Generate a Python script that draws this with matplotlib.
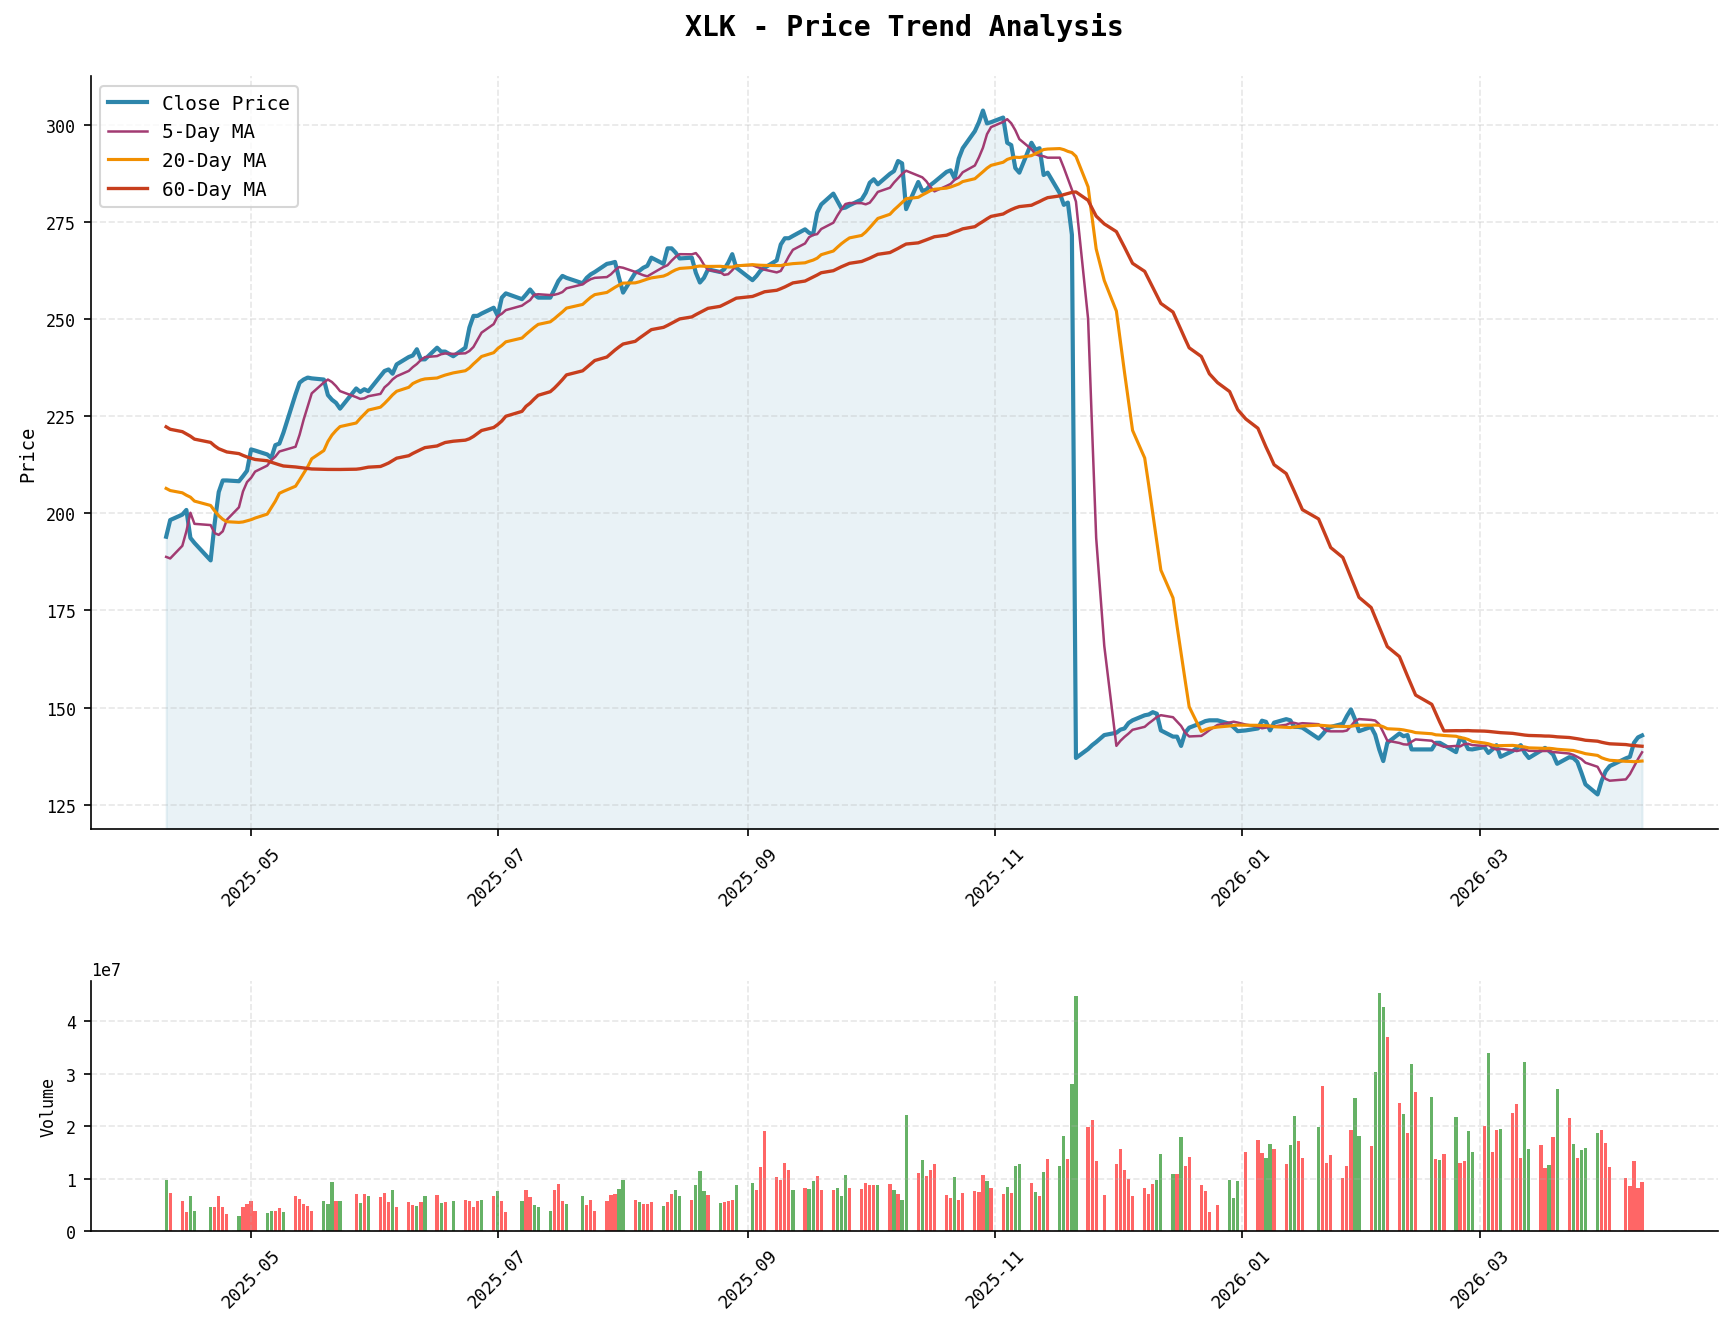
import numpy as np
import pandas as pd
import matplotlib
matplotlib.use('Agg')
import matplotlib.pyplot as plt
import matplotlib.dates as mdates

plt.rcParams['font.family'] = ['DejaVu Sans Mono']

ticker = 'XLK'
start, end = '2025-04-10', '2026-04-10'
# market holidays plus one day with no data (2025-07-21)
closed_days = ['2025-04-18', '2025-05-26', '2025-06-19', '2025-07-04', '2025-07-21',
               '2025-09-01', '2025-11-27', '2025-12-25', '2026-01-01', '2026-01-19',
               '2026-02-16', '2026-04-03']

# 60 closes before the window (2025-01-14 .. 2025-04-09), only used to seed the moving averages
close_before = [232, 235, 234, 237, 239, 243, 242, 241, 230, 234, 234, 236, 234, 231, 235, 236,
                238, 235, 237, 236, 236, 238,
                242, 242, 243, 241, 235, 231, 229, 229, 223, 225, 220, 219, 221,
                210, 209, 200, 198, 200,
                205, 210, 212, 211, 214, 215, 216, 222, 224, 221,
                212, 206, 204, 205, 208,
                196, 182, 181, 177, 208]

close = [
    # 2025-04
    194.0, 198.3, 199.7, 200.9, 193.7, 192.4, 187.9, 197.5, 205.5, 208.5, 208.5, 208.3, 209.6, 211.0,
    # 2025-05
    216.5, 216.2, 215.2, 214.3, 217.6, 218.0, 220.8, 230.7, 233.7, 234.5, 235.0, 234.8, 234.5, 230.5,
    229.3, 228.5, 227.0, 232.2, 231.3, 232.0, 231.5,
    # 2025-06
    235.4, 236.7, 237.1, 236.0, 238.4, 240.3, 240.7, 242.3, 239.7, 239.7, 242.7, 241.7, 241.7, 240.5,
    242.7, 247.9, 250.9, 250.9, 251.5, 253.0,
    # 2025-07
    250.9, 255.6, 256.7, 255.2, 256.4, 257.7, 256.4, 255.6, 255.6, 257.7, 259.9, 261.2, 260.7, 259.3,
    260.7, 261.6, 262.2, 264.3, 264.5, 264.8, 260.7,
    # 2025-08
    256.9, 262.0, 262.5, 263.3, 263.8, 265.9, 264.3, 268.3, 268.3, 267.2, 265.7, 265.9, 262.0, 259.5,
    260.7, 262.9, 262.2, 262.9, 264.6, 266.8, 263.3,
    # 2025-09
    260.1, 261.2, 262.6, 263.3, 265.2, 269.3, 270.9, 270.9, 271.5, 273.2, 272.3, 271.9, 277.5, 279.6,
    282.4, 280.5, 278.6, 278.8, 279.4, 280.9, 282.6,
    # 2025-10
    285.2, 286.1, 284.8, 287.5, 288.2, 290.8, 290.2, 278.4, 285.4, 283.1, 283.4, 284.6, 285.4, 288.0,
    288.4, 286.3, 291.4, 294.1, 298.5, 300.8, 303.8, 300.5, 300.8,
    # 2025-11
    302.0, 295.5, 294.9, 289.0, 287.8, 295.5, 293.7, 294.1, 287.2, 287.8, 282.5, 279.5, 280.1, 271.8,
    137.0, 139.3, 140.3, 141.1, 142.9,
    # 2025-12
    143.5, 144.3, 144.6, 146.0, 146.7, 148.0, 148.2, 148.8, 148.4, 144.1, 142.5, 142.5, 140.1, 143.5,
    144.8, 146.0, 146.5, 146.7, 146.7, 145.8, 144.9, 143.9,
    # 2026-01
    144.1, 144.6, 146.6, 146.3, 144.1, 146.1, 147.0, 146.7, 145.0, 145.0, 144.8, 142.0, 143.1, 144.4,
    145.0, 145.8, 147.8, 149.5, 147.0, 143.9,
    # 2026-02
    145.0, 143.0, 139.2, 136.2, 140.9, 143.3, 142.6, 142.9, 139.2, 139.2, 139.2, 140.9, 140.9, 140.3,
    138.5, 142.2, 141.3, 139.3, 139.2,
    # 2026-03
    139.8, 138.3, 139.2, 140.3, 137.3, 138.8, 139.5, 140.3, 138.3, 137.0, 138.9, 139.6, 138.8, 137.9,
    135.5, 137.2, 137.0, 136.0, 133.2, 130.2, 127.6, 131.1,
    # 2026-04
    133.6, 134.9, 136.9, 137.3, 140.9, 142.3, 142.8,
]

# volume in units of 1e7 shares
volume_1e7 = [
    0.98, 0.72, 0.58, 0.36, 0.66, 0.38, 0.45, 0.45, 0.66, 0.45, 0.32, 0.28, 0.45, 0.51,
    0.565, 0.39, 0.34, 0.39, 0.39, 0.43, 0.36, 0.66, 0.62, 0.51, 0.47, 0.39, 0.58, 0.51,
    0.93, 0.565, 0.58, 0.70, 0.53, 0.70, 0.66,
    0.64, 0.72, 0.55, 0.79, 0.45, 0.55, 0.49, 0.47, 0.55, 0.66, 0.68, 0.53, 0.55, 0.565,
    0.60, 0.565, 0.45, 0.565, 0.60, 0.66,
    0.76, 0.58, 0.36, 0.565, 0.775, 0.64, 0.49, 0.45, 0.39, 0.775, 0.89, 0.58, 0.51, 0.66,
    0.49, 0.60, 0.39, 0.565, 0.68, 0.70, 0.81,
    0.965, 0.60, 0.546, 0.51, 0.51, 0.546, 0.47, 0.546, 0.70, 0.775, 0.66, 0.60, 0.87, 1.137,
    0.756, 0.68, 0.527, 0.546, 0.565, 0.60, 0.87,
    0.908, 0.775, 1.213, 1.917, 1.022, 0.965, 1.289, 1.156, 0.775, 0.813, 0.794, 0.946, 1.041, 0.775,
    0.775, 0.813, 0.66, 1.06, 0.813, 0.794, 0.908,
    0.87, 0.87, 0.87, 0.889, 0.775, 0.70, 0.584, 2.222, 1.098, 1.346, 1.041, 1.156, 1.27, 0.68,
    0.622, 1.022, 0.584, 0.717, 0.756, 0.737, 1.06, 0.946, 0.813,
    0.70, 0.832, 0.717, 1.232, 1.27, 0.908, 0.737, 0.66, 1.117, 1.365, 1.232, 1.822, 1.365, 2.813,
    4.489, 1.994, 2.127, 1.327, 0.68,
    1.27, 1.556, 1.156, 0.984, 0.66, 0.813, 0.70, 0.889, 0.965, 1.479, 1.079, 1.079, 1.803, 1.232,
    1.422, 0.87, 0.756, 0.356, 0.49, 0.965, 0.622, 0.946,
    1.517, 1.746, 1.498, 1.384, 1.67, 1.556, 1.27, 1.651, 2.203, 1.727, 1.403, 1.994, 2.775, 1.289,
    1.46, 1.003, 1.232, 1.937, 2.546, 1.822,
    1.632, 3.04, 4.546, 4.279, 3.708, 2.451, 2.241, 1.879, 3.194, 2.66, 2.565, 1.365, 1.346, 1.479,
    2.184, 1.289, 1.327, 1.917, 1.517,
    2.013, 3.403, 1.517, 1.937, 1.956, 2.26, 2.432, 1.384, 3.232, 1.556, 1.651, 1.194, 1.251, 1.803,
    2.717, 2.165, 1.67, 1.384, 1.537, 1.575, 1.879, 1.937,
    1.689, 1.213, 1.003, 0.851, 1.327, 0.813, 0.927,
]

# U = up day, D = down day (one letter per session, month by month)
direction = ('DUUUDDDUUUUDUU' 'UUDDUUDUUUUUDDDUDUDUD' 'UUUDUUUDUDUDUDUUUUDU'
             'DUUDUUDDDUUUDDUUUUUUD' 'DUDUUUDUUDDUDDDUDUUUD' 'DUUUUUUUDUDDUUUDDDUUU'
             'UUDUDUDDUDUUUUUDUUUUUDU' 'UDUDDUDUDUDDUDDUUUU' 'UUUUUUUUDDDUDUUUUUUDDD'
             'UUUDDUUDDUUDUUUUUUDD' 'UDDDUUDUDUDUDUDUUDD' 'UDUUDUUUDDUUDUDUDUDDDU'
             'UUUUUUU')

dates = pd.bdate_range(start, end).drop(pd.to_datetime(closed_days))

series = pd.Series(close_before + close)
n0 = len(close_before)
ma5 = series.rolling(5).mean().shift(1).iloc[n0:].values
ma20 = series.rolling(20).mean().shift(1).iloc[n0:].values
ma60 = series.rolling(60).mean().shift(1).iloc[n0:].values

volume = np.array(volume_1e7) * 1e7
bar_colors = ['red' if d == 'U' else 'green' for d in direction]

fig = plt.figure(figsize=(1732 / 150, 1327 / 150), dpi=150)
ax1 = fig.add_axes([0.0523, 0.3748, 0.9394, 0.5669])
ax2 = fig.add_axes([0.0523, 0.0716, 0.9394, 0.1884], sharex=ax1)

ax1.plot(dates, close, color='#2E86AB', linewidth=2, label='Close Price')
ax1.plot(dates, ma5, color='#A23B72', linewidth=1.2, label='5-Day MA')
ax1.plot(dates, ma20, color='#F18F01', linewidth=1.5, label='20-Day MA')
ax1.plot(dates, ma60, color='#C73E1D', linewidth=1.6, label='60-Day MA')
ylo, yhi = ax1.get_ylim()
ax1.fill_between(dates, close, ylo, color='#2E86AB', alpha=0.1)
ax1.set_ylim(ylo, yhi)

ax1.set_title(f'{ticker} - Price Trend Analysis', fontsize=13.5, fontweight='bold', pad=20)
ax1.set_ylabel('Price', fontsize=9)
ax1.legend(loc='upper left', fontsize=9.3)
ax1.grid(True, alpha=0.3, linestyle='--')

ax2.bar(dates, volume, width=0.8, color=bar_colors, alpha=0.6)
ax2.set_ylabel('Volume', fontsize=8)
ax2.grid(True, alpha=0.3, linestyle='--')
ax2.yaxis.get_offset_text().set_fontsize(8)

for ax in (ax1, ax2):
    ax.spines['top'].set_visible(False)
    ax.spines['right'].set_visible(False)
    ax.xaxis.set_major_locator(mdates.MonthLocator(bymonth=[1, 3, 5, 7, 9, 11]))
    ax.xaxis.set_major_formatter(mdates.DateFormatter('%Y-%m'))
    ax.tick_params(axis='x', rotation=45, labelsize=8.5)
    ax.tick_params(axis='y', labelsize=8)
    ax.xaxis.set_tick_params(labelbottom=True)

fig.savefig('out.png', dpi=150)
